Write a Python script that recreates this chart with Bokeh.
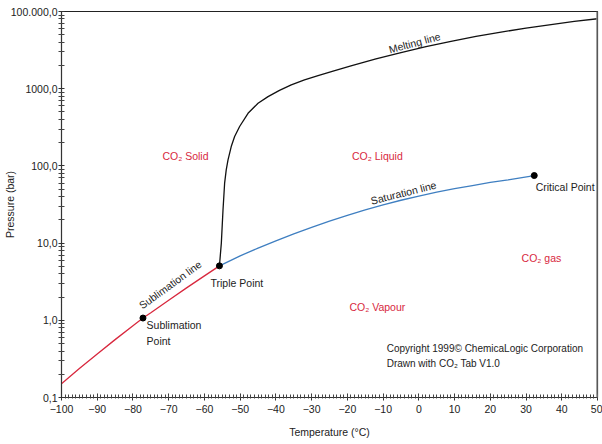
from bokeh.plotting import figure
from bokeh.models import FixedTicker, CustomJSTickFormatter, Label, Span
from bokeh.embed import file_html
from bokeh.resources import INLINE
import math

# ---------------- data ----------------
x_ticks = list(range(-100, 51, 10))
x_minor_ticks = list(range(-100, 51, 1))
y_ticks = [0.1, 1, 10, 100, 1000, 10000]
y_tick_labels = ["0,1", "1,0", "10,0", "100,0", "1000,0", "100.000,0"]
y_minor_ticks = [m * 10 ** e for e in range(-1, 4) for m in range(2, 10)]

# sublimation line (red)
sub_T = [-100, -95, -90, -85, -80, -77.2, -75, -70, -65, -60, -55.8]
sub_P = [0.151, 0.237, 0.367, 0.562, 0.851, 1.07, 1.25, 1.82, 2.63, 3.76, 5.07]

# saturation line (blue)
sat_T = [-55.8, -50, -45, -40, -35, -30, -25, -20, -15, -10, -5, 0,
         5, 10, 15, 20, 25, 32.3]
sat_P = [5.07, 6.84, 8.61, 10.7, 13.2, 16.0, 19.3, 22.9, 26.9, 31.3, 35.9, 40.7,
         45.7, 50.7, 55.6, 61.0, 66.1, 75.0]

# melting line (black)
melt_T = [-55.8, -55.27, -54.8, -54.35, -53.9, -53.4, -52.5, -51.55, -50.15,
          -47.8, -45.0, -42.2, -39.0, -35.7, -32.0, -28.2, -24.0, -19.0,
          -12, -5, 2, 9, 16, 23, 30, 37, 43.5, 50]
melt_P = [5.07, 10.0, 27, 59.7, 88.7, 120, 178, 240, 324,
          480, 648, 790, 951, 1122, 1303, 1479, 1690, 1977,
          2432, 2931, 3499, 4111, 4753, 5408, 6109, 6776, 7430, 8054]

# special points
pt_T = [-77.2, -55.8, 32.3]
pt_P = [1.07, 5.07, 75.0]

FONT = "Liberation Sans"
RED = "#d8283e"
BLUE = "#3f7fc1"

p = figure(width=602, height=444, x_range=(-100, 50), y_range=(0.1, 10000),
           y_axis_type="log", output_backend="svg", toolbar_location=None,
           min_border_left=61, min_border_right=5, min_border_top=11,
           min_border_bottom=47,
           x_axis_label="Temperature (\u00b0C)", y_axis_label="Pressure (bar)")
p.grid.visible = False
p.outline_line_color = "#222222"
p.outline_line_width = 1.2
p.background_fill_color = "white"
p.border_fill_color = "white"

# x axis
xa = p.xaxis[0]
xa.ticker = FixedTicker(ticks=x_ticks, minor_ticks=x_minor_ticks)
xa.major_label_text_font = FONT
xa.major_label_text_font_size = "10.5px"
xa.major_label_text_color = "#222222"
xa.major_tick_in = 4
xa.major_tick_out = 3
xa.minor_tick_in = 3
xa.minor_tick_out = 1
xa.major_label_standoff = 4
xa.axis_line_color = "#333333"
xa.major_tick_line_color = "#333333"
xa.minor_tick_line_color = "#444444"
xa.axis_label_text_font = FONT
xa.axis_label_text_font_size = "10.5px"
xa.axis_label_text_font_style = "normal"
xa.axis_label_text_color = "#222222"
xa.axis_label_standoff = 10

# y axis
ya = p.yaxis[0]
ya.ticker = FixedTicker(ticks=y_ticks, minor_ticks=y_minor_ticks)
ya.formatter = CustomJSTickFormatter(args=dict(vals=y_ticks, labs=y_tick_labels), code="""
for (let i = 0; i < vals.length; i++) {
  if (Math.abs(Math.log10(tick) - Math.log10(vals[i])) < 1e-6) return labs[i];
}
return "";
""")
ya.major_label_text_font = FONT
ya.major_label_text_font_size = "10.5px"
ya.major_label_text_color = "#222222"
ya.major_tick_in = 3
ya.major_tick_out = 3
ya.minor_tick_in = 3
ya.minor_tick_out = 3
ya.major_label_standoff = 1
ya.axis_line_color = "#333333"
ya.major_tick_line_color = "#333333"
ya.minor_tick_line_color = "#444444"
ya.axis_label_text_font = FONT
ya.axis_label_text_font_size = "10.5px"
ya.axis_label_text_font_style = "normal"
ya.axis_label_text_color = "#222222"
ya.axis_label_standoff = -8

# right frame edge (grey)
p.add_layout(Span(location=50, dimension="height", line_color="#8c8c8c", line_width=2.5))

# curves
p.line(sub_T, sub_P, line_color=RED, line_width=1.3)
p.line(sat_T, sat_P, line_color=BLUE, line_width=1.3)
p.line(melt_T, melt_P, line_color="#111111", line_width=1.3)
p.scatter(pt_T, pt_P, size=6, color="black")


def lab(text, x, y, color="#222222", size="10.5px", angle=0.0, align="left",
        baseline="middle"):
    p.add_layout(Label(x=x, y=y, text=text,
                       text_color=color, text_font=FONT, text_font_size=size,
                       angle=math.radians(angle), text_align=align,
                       text_baseline=baseline))


# phase regions
lab("CO\u2082 Solid", -65.3, 136, RED, align="center")
lab("CO\u2082 Liquid", -11.6, 136, RED, align="center")
lab("CO\u2082 gas", 34.3, 6.5, RED, align="center")
lab("CO\u2082 Vapour", -11.6, 1.47, RED, align="center")

# line names
lab("Melting line", -1.2, 3950, angle=15, align="center")
lab("Saturation line", -4.3, 45, angle=14, align="center")
lab("Sublimation line", -69.6, 2.9, angle=36, align="center")

# points
lab("Triple Point", -58.3, 3.0)
lab("Sublimation", -76.2, 0.857)
lab("Point", -76.2, 0.547)
lab("Critical Point", 32.7, 54)

# copyright
lab("Copyright 1999\u00a9 ChemicaLogic Corporation", -9.0, 0.431, size="10px")
lab("Drawn with CO\u2082 Tab V1.0", -9.0, 0.275, size="10px")

open("out.html", "w").write(file_html(p, INLINE))
